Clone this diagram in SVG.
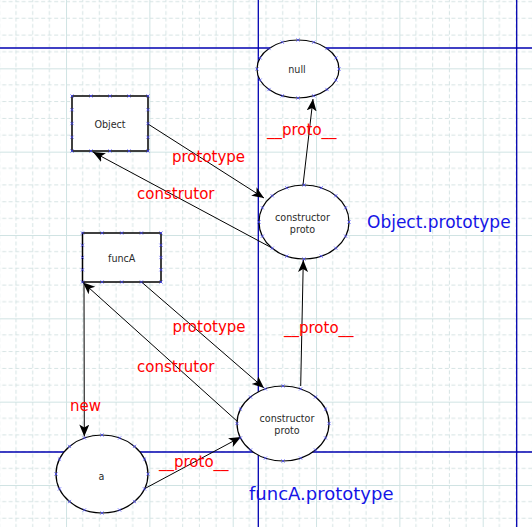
<svg xmlns="http://www.w3.org/2000/svg" xmlns:xlink="http://www.w3.org/1999/xlink" width="532" height="527" viewBox="0 0 532 527">
<style>
.minor{stroke:#d6e4e4;stroke-width:1;stroke-dasharray:4 2.5;fill:none}
.major{stroke:#d0e3e3;stroke-width:1;fill:none}
.guide{stroke:#0000b0;stroke-width:1.3}
.node{fill:#fff;stroke:#000;stroke-width:1.2}
.rnode{fill:#fff;stroke:#000;stroke-width:1.5}
.ntext{font-family:"DejaVu Sans",sans-serif;font-size:9.6px;fill:#2a2a2a;text-anchor:middle}
.edge{stroke:#000;stroke-width:1;fill:none;marker-end:url(#arrow)}
.lbl{font-family:"DejaVu Sans",sans-serif;font-size:15px;fill:#ff0000}
.blbl{font-family:"DejaVu Sans",sans-serif;font-size:17px;fill:#1515e6}
.pt{stroke:#4040ff;stroke-width:0.7;fill:none}
</style>
<defs>
<pattern id="grid" patternUnits="userSpaceOnUse" x="-17.3" y="-15" width="83.333" height="83.333">
<path class="minor" d="M16.667,0V83.333M33.333,0V83.333M50,0V83.333M66.667,0V83.333M0,16.667H83.333M0,33.333H83.333M0,50H83.333M0,66.667H83.333"/>
<path class="major" d="M0.5,0V83.333M0,0.5H83.333"/>
</pattern>
<marker id="arrow" markerUnits="userSpaceOnUse" markerWidth="13" markerHeight="11" refX="12" refY="5" orient="auto">
<path d="M0,0L12,5L0,10L3,5Z" fill="#000"/>
</marker>
<path id="m" class="pt" d="M-1.6,-1.6L1.6,1.6M1.6,-1.6L-1.6,1.6"/>
</defs>
<rect width="532" height="527" fill="#fff"/>
<rect width="532" height="527" fill="url(#grid)"/>
<g id="guides">
<line class="guide" x1="0" y1="48" x2="532" y2="48"/>
<line class="guide" x1="0" y1="452" x2="532" y2="452"/>
<line class="guide" x1="258.3" y1="0" x2="258.3" y2="527"/>
<line class="guide" x1="516.7" y1="0" x2="516.7" y2="527"/>
</g>
<g id="connectors">
<line class="edge" x1="148" y1="124" x2="264" y2="198"/>
<line class="edge" x1="272" y1="248" x2="93" y2="152"/>
<line class="edge" x1="303" y1="185" x2="313" y2="99"/>
<line class="edge" x1="300.7" y1="386" x2="303.3" y2="260"/>
<line class="edge" x1="141.5" y1="282" x2="264" y2="388"/>
<line class="edge" x1="238" y1="422" x2="83" y2="282.5"/>
<line class="edge" x1="84" y1="282" x2="84.3" y2="436.5"/>
<line class="edge" x1="144" y1="489" x2="241" y2="437"/>
</g>
<g id="node-null">
<ellipse class="node" cx="298" cy="69" rx="41" ry="29"/>
<text class="ntext" x="297" y="73.3">null</text>
<use href="#m" x="339" y="69"/><use href="#m" x="335.9" y="80.1"/><use href="#m" x="327" y="89.5"/><use href="#m" x="313.7" y="95.8"/><use href="#m" x="298" y="98"/><use href="#m" x="282.3" y="95.8"/><use href="#m" x="269" y="89.5"/><use href="#m" x="260.1" y="80.1"/><use href="#m" x="257" y="69"/><use href="#m" x="260.1" y="57.9"/><use href="#m" x="269" y="48.5"/><use href="#m" x="282.3" y="42.2"/><use href="#m" x="298" y="40"/><use href="#m" x="313.7" y="42.2"/><use href="#m" x="327" y="48.5"/><use href="#m" x="335.9" y="57.9"/>
</g>
<g id="node-object-proto">
<ellipse class="node" cx="304" cy="222" rx="45" ry="37"/>
<text class="ntext" x="302.5" y="220.7">constructor</text>
<text class="ntext" x="302.5" y="233.3">proto</text>
<use href="#m" x="349" y="222"/><use href="#m" x="345.6" y="236.2"/><use href="#m" x="335.8" y="248.2"/><use href="#m" x="321.2" y="256.2"/><use href="#m" x="304" y="259"/><use href="#m" x="286.8" y="256.2"/><use href="#m" x="272.2" y="248.2"/><use href="#m" x="262.4" y="236.2"/><use href="#m" x="259" y="222"/><use href="#m" x="262.4" y="207.8"/><use href="#m" x="272.2" y="195.8"/><use href="#m" x="286.8" y="187.8"/><use href="#m" x="304" y="185"/><use href="#m" x="321.2" y="187.8"/><use href="#m" x="335.8" y="195.8"/><use href="#m" x="345.6" y="207.8"/>
</g>
<g id="node-funcA-proto">
<ellipse class="node" cx="283" cy="423.5" rx="46" ry="37.5"/>
<text class="ntext" x="287" y="422.3">constructor</text>
<text class="ntext" x="287" y="434">proto</text>
<use href="#m" x="329" y="423.5"/><use href="#m" x="325.5" y="437.9"/><use href="#m" x="315.5" y="450"/><use href="#m" x="300.6" y="458.1"/><use href="#m" x="283" y="461"/><use href="#m" x="265.4" y="458.1"/><use href="#m" x="250.5" y="450"/><use href="#m" x="240.5" y="437.9"/><use href="#m" x="237" y="423.5"/><use href="#m" x="240.5" y="409.1"/><use href="#m" x="250.5" y="397"/><use href="#m" x="265.4" y="388.9"/><use href="#m" x="283" y="386"/><use href="#m" x="300.6" y="388.9"/><use href="#m" x="315.5" y="397"/><use href="#m" x="325.5" y="409.1"/>
</g>
<g id="node-a">
<ellipse class="node" cx="102" cy="474" rx="46" ry="39"/>
<text class="ntext" x="101.5" y="480">a</text>
<use href="#m" x="148" y="474"/><use href="#m" x="144.5" y="488.9"/><use href="#m" x="134.5" y="501.6"/><use href="#m" x="119.6" y="510"/><use href="#m" x="102" y="513"/><use href="#m" x="84.4" y="510"/><use href="#m" x="69.5" y="501.6"/><use href="#m" x="59.5" y="488.9"/><use href="#m" x="56" y="474"/><use href="#m" x="59.5" y="459.1"/><use href="#m" x="69.5" y="446.4"/><use href="#m" x="84.4" y="438"/><use href="#m" x="102" y="435"/><use href="#m" x="119.6" y="438"/><use href="#m" x="134.5" y="446.4"/><use href="#m" x="144.5" y="459.1"/>
</g>
<g id="node-Object">
<rect class="rnode" x="72" y="96" width="76" height="55"/>
<text class="ntext" x="110" y="128.3">Object</text>
<use href="#m" x="72" y="96"/><use href="#m" x="91" y="96"/><use href="#m" x="110" y="96"/><use href="#m" x="129" y="96"/><use href="#m" x="148" y="96"/>
<use href="#m" x="72" y="151"/><use href="#m" x="91" y="151"/><use href="#m" x="110" y="151"/><use href="#m" x="129" y="151"/><use href="#m" x="148" y="151"/>
<use href="#m" x="72" y="109.75"/><use href="#m" x="72" y="123.5"/><use href="#m" x="72" y="137.25"/>
<use href="#m" x="148" y="109.75"/><use href="#m" x="148" y="123.5"/><use href="#m" x="148" y="137.25"/>
</g>
<g id="node-funcA">
<rect class="rnode" x="82.5" y="233" width="78.5" height="49"/>
<text class="ntext" x="121.7" y="262.3">funcA</text>
<use href="#m" x="82.5" y="233"/><use href="#m" x="102.1" y="233"/><use href="#m" x="121.75" y="233"/><use href="#m" x="141.4" y="233"/><use href="#m" x="161" y="233"/>
<use href="#m" x="82.5" y="282"/><use href="#m" x="102.1" y="282"/><use href="#m" x="121.75" y="282"/><use href="#m" x="141.4" y="282"/><use href="#m" x="161" y="282"/>
<use href="#m" x="82.5" y="245.25"/><use href="#m" x="82.5" y="257.5"/><use href="#m" x="82.5" y="269.75"/>
<use href="#m" x="161" y="245.25"/><use href="#m" x="161" y="257.5"/><use href="#m" x="161" y="269.75"/>
</g>
<g id="labels">
<text class="lbl" x="172" y="162">prototype</text>
<text class="lbl" x="137" y="198.5">construtor</text>
<text class="lbl" x="267" y="135">__proto__</text>
<text class="lbl" x="172.5" y="332">prototype</text>
<text class="lbl" x="284" y="333.3">__proto__</text>
<text class="lbl" x="137" y="371.7">construtor</text>
<text class="lbl" x="70" y="410.7">new</text>
<text class="lbl" x="159" y="467">__proto__</text>
<text class="blbl" x="367" y="227.7">Object.prototype</text>
<text class="blbl" x="249" y="500" style="font-size:18px">funcA.prototype</text>
</g>
</svg>
